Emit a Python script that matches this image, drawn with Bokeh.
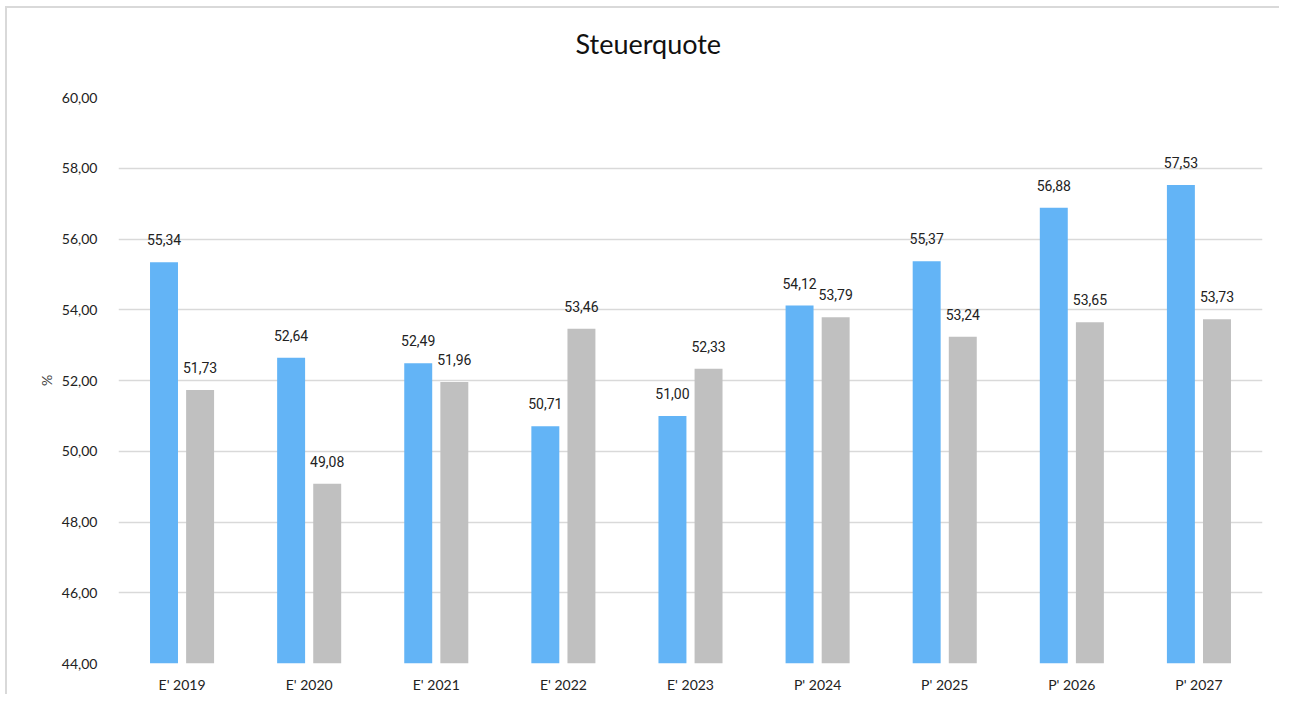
from bokeh.plotting import figure
from bokeh.models import ColumnDataSource, FixedTicker, LabelSet
from bokeh.transform import dodge
from bokeh.core.properties import value
from bokeh.embed import file_html
from bokeh.resources import INLINE

categories = ["E' 2019", "E' 2020", "E' 2021", "E' 2022", "E' 2023",
              "P' 2024", "P' 2025", "P' 2026", "P' 2027"]
series_a = [55.34, 52.64, 52.49, 50.71, 51.00, 54.12, 55.37, 56.88, 57.53]
series_b = [51.73, 49.08, 51.96, 53.46, 52.33, 53.79, 53.24, 53.65, 53.73]
y_ticks = [44, 46, 48, 50, 52, 54, 56, 58, 60]
title_text = "Steuerquote"


def fmt(v):
    return f"{v:.2f}".replace(".", ",")


src = ColumnDataSource(dict(
    cat=categories, a=series_a, b=series_b,
    la=[fmt(v) for v in series_a], lb=[fmt(v) for v in series_b],
))

p = figure(x_range=categories, y_range=(44, 60), width=1274, height=688,
           output_backend="svg", toolbar_location=None,
           min_border_left=111, min_border_right=19,
           min_border_top=89, min_border_bottom=33)
p.styles = {"border-top": "2px solid #d9d9d9", "border-left": "2px solid #d9d9d9",
            "margin-left": "5px", "margin-top": "6px"}
p.outline_line_color = None
p.background_fill_color = "white"

# trailing blank line lifts the single visible line further above the frame
p.title.text = title_text + "\n"
p.title.align = "left"
p.title.vertical_align = "bottom"
p.title.text_font = "Lato"
p.title.text_font_size = "27px"
p.title.text_font_style = "normal"
p.title.text_color = "#111111"
p.title.offset = 457
p.title.standoff = 10

p.vbar(x=dodge("cat", -0.142, range=p.x_range), top="a", bottom=44, width=0.22,
       source=src, color="#63b4f6", line_color=None)
p.vbar(x=dodge("cat", 0.142, range=p.x_range), top="b", bottom=44, width=0.22,
       source=src, color="#c0c0c0", line_color=None)

for col, lab, off in (("a", "la", -0.142), ("b", "lb", 0.142)):
    ls = LabelSet(x=dodge("cat", off, range=p.x_range), y=col, text=lab, source=src,
                  text_align="center", text_baseline="bottom", y_offset=17,
                  text_font=value("Roboto"), text_font_size=value("14px"),
                  text_color="#222222")
    p.add_layout(ls)

p.yaxis.ticker = FixedTicker(ticks=y_ticks)
p.yaxis.major_label_overrides = {t: fmt(t) for t in y_ticks}
p.yaxis.axis_label = "%"
p.yaxis.axis_label_text_font_style = "normal"
p.yaxis.axis_label_text_font = "Lato"
p.yaxis.axis_label_text_font_size = "14px"
p.yaxis.axis_label_standoff = 4
for ax in (p.xaxis, p.yaxis):
    ax.axis_line_color = None
    ax.major_tick_line_color = None
    ax.minor_tick_line_color = None
    ax.major_label_text_font = "Lato"
    ax.major_label_text_font_size = "14px"
    ax.major_label_text_color = "#222222"
p.yaxis.major_label_standoff = 15
p.xaxis.major_label_standoff = 6

p.xgrid.grid_line_color = None
p.ygrid.grid_line_color = "#d9d9d9"
p.ygrid.grid_line_width = 1.5

open("out.html", "w").write(file_html(p, INLINE))
